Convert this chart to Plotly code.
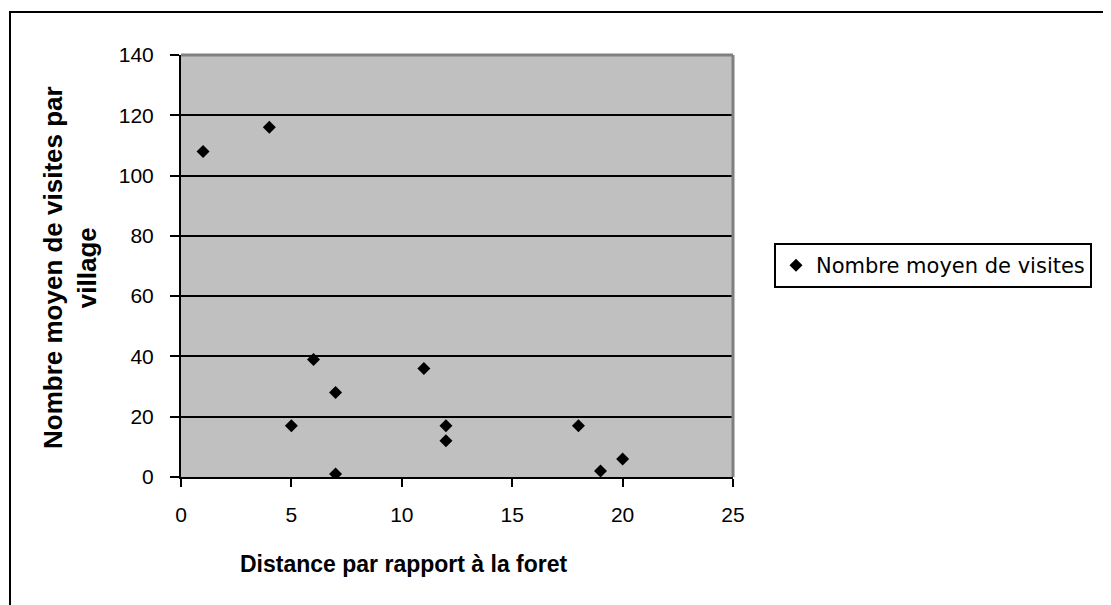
import plotly.graph_objects as go

# distance to the forest vs mean number of visits per village
distance = [1, 4, 5, 6, 7, 7, 11, 12, 12, 18, 19, 20]
visites = [108, 116, 17, 39, 28, 1, 36, 17, 12, 17, 2, 6]

x_ticks = [0, 5, 10, 15, 20, 25]
y_ticks = [0, 20, 40, 60, 80, 100, 120, 140]

OFF = 8  # page body margin
W, H = 1111 - OFF, 605 - OFF
L, R, T, B = 181, 733, 55, 477  # plot area in screen pixels


def px_x(p):
    return (p - L) / (R - L)


def px_y(p):
    return (B - p) / (B - T)


FONT = "Liberation Sans, Arial, sans-serif"

fig = go.Figure()
fig.add_trace(go.Scatter(
    x=distance, y=visites, mode="markers",
    name="Nombre moyen de visites",
    marker=dict(symbol="diamond", size=10, color="black"),
))

fig.update_layout(
    width=W, height=H,
    margin=dict(l=L - OFF, r=W - (R - OFF), t=T - OFF, b=H - (B - OFF)),
    paper_bgcolor="white",
    plot_bgcolor="#c0c0c0",
    font=dict(family=FONT, size=21, color="black"),
    showlegend=True,
    legend=dict(
        x=px_x(774), y=px_y(243), xanchor="left", yanchor="top",
        bordercolor="black", borderwidth=2, bgcolor="white",
        font=dict(family="DejaVu Sans, sans-serif", size=21),
        itemwidth=30, tracegroupgap=0,
    ),
)

fig.update_xaxes(
    range=[0, 25], tickvals=x_ticks, showgrid=False, zeroline=False,
    showline=True, linecolor="black", linewidth=2,
    ticks="outside", ticklen=8, tickwidth=2, tickcolor="black",
    ticklabelstandoff=10,
)
fig.update_yaxes(
    range=[0, 140], tickvals=y_ticks, showgrid=True, gridcolor="black", gridwidth=2,
    zeroline=False, showline=True, linecolor="black", linewidth=2,
    ticks="outside", ticklen=9, tickwidth=2, tickcolor="black",
    ticklabelstandoff=12,
)

# grey top / right border of the plot area
fig.add_shape(type="line", xref="paper", yref="paper", x0=0, x1=1, y0=1, y1=1,
              line=dict(color="#808080", width=3))
fig.add_shape(type="line", xref="paper", yref="paper", x0=1, x1=1, y0=0, y1=1,
              line=dict(color="#808080", width=3))

# outer chart border
fig.add_shape(type="rect", xref="paper", yref="paper",
              x0=px_x(10), x1=px_x(1130), y0=px_y(625), y1=px_y(12),
              line=dict(color="black", width=2), layer="below")

# axis titles
fig.add_annotation(
    text="<b>Distance par rapport à la foret</b>",
    xref="paper", yref="paper", x=px_x(404), y=px_y(564),
    xanchor="center", yanchor="middle",
    showarrow=False, font=dict(size=23),
)
fig.add_annotation(
    text="<b>Nombre moyen de visites par<br>village</b>",
    xref="paper", yref="paper", x=px_x(70), y=px_y(268),
    xanchor="center", yanchor="middle",
    showarrow=False, textangle=-90, font=dict(size=26),
)

fig.write_html("out.html")
